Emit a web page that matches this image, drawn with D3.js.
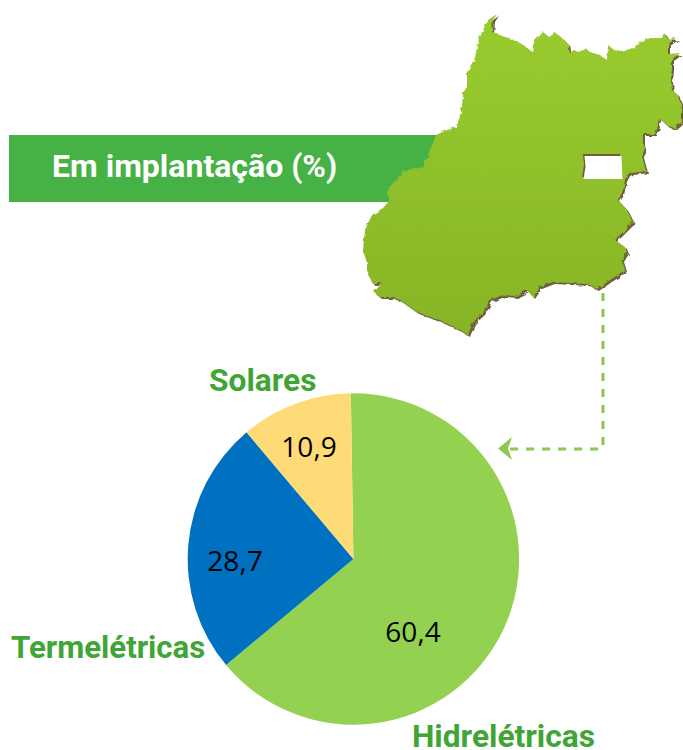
<!DOCTYPE html>
<html>
<head>
<meta charset="utf-8">
<script src="https://cdn.jsdelivr.net/npm/d3@7"></script>
<style>
    html, body { margin: 0; padding: 0; background: #fff; }
    svg { display: block; }
</style>
</head>
<body>
<svg id="chart" width="683" height="750"></svg>
<script>
let categories = ["Hidrelétricas", "Termelétricas", "Solares"]
let valueLabels = ["60,4", "28,7", "10,9"]
// slice sizes as measured from the drawn pie, the printed labels do not quite add up to the angles
let sliceShares = [64.2, 24.9, 10.9]
let sliceColors = ["#93d251", "#0070c0", "#ffdb77"]
let title = "Em implantação (%)"

let mapOutline = [[497,14],[493,20],[492,32],[505,37],[517,41],[533,52],[535,41],[543,32],[548,36],[554,32],[562,38],[568,44],[570,53],[574,50],[578,52],[586,49],[590,52],[600,55],[607,60],[608,45],[614,50],[622,52],[632,48],[642,42],[650,38],[662,38],[664,33],[668,39],[677,38],[668,44],[668,54],[680,53],[672,59],[672,68],[671,80],[672,90],[678,95],[682,105],[682,122],[675,128],[668,126],[659,118],[657,130],[655,134],[643,134],[643,143],[645,148],[642,156],[646,171],[632,173],[625,179],[625,180],[622,193],[618,200],[627,210],[633,222],[625,230],[615,240],[625,247],[627,252],[622,260],[625,270],[613,278],[597,289],[587,284],[570,283],[553,282],[540,287],[533,297],[527,290],[515,296],[503,295],[490,300],[483,313],[473,322],[468,335],[460,330],[443,322],[417,312],[400,300],[392,297],[380,297],[374,292],[382,283],[372,283],[367,270],[367,263],[363,250],[365,230],[372,215],[383,208],[390,200],[387,192],[393,183],[403,172],[423,167],[430,150],[436,135],[447,130],[457,127],[462,107],[463,93],[467,87],[467,72],[475,58],[478,42],[483,30],[488,20]]
let mapHole = [[583,154],[620,154],[621,177],[582,177],[584,165]]
let leaderDown = [[603,293],[603,446]]
let leaderLeft = [[598,449],[510,449]]

let svg = d3.select("#chart")

let defs = svg.append("defs")
let grad = defs.append("linearGradient")
    .attr("id", "mapFill")
    .attr("x1", 0).attr("y1", 0).attr("x2", 0).attr("y2", 1)
grad.append("stop").attr("offset", "0%").attr("stop-color", "#99cc2f")
grad.append("stop").attr("offset", "100%").attr("stop-color", "#87b425")

// jagged border for the map
let rough = defs.append("filter")
    .attr("id", "rough")
    .attr("x", "-5%").attr("y", "-5%").attr("width", "110%").attr("height", "110%")
rough.append("feTurbulence")
    .attr("type", "fractalNoise")
    .attr("baseFrequency", 0.18)
    .attr("numOctaves", 2)
    .attr("seed", 4)
    .attr("result", "noise")
rough.append("feDisplacementMap")
    .attr("in", "SourceGraphic")
    .attr("in2", "noise")
    .attr("scale", 4)

// title band
svg.append("rect")
    .attr("x", 9).attr("y", 135)
    .attr("width", 440).attr("height", 67)
    .attr("fill", "#46b145")
svg.append("text")
    .attr("x", 52).attr("y", 177)
    .style("font-family", "Roboto, sans-serif")
    .attr("font-size", 32)
    .attr("font-weight", 700)
    .attr("fill", "#fff")
    .text(title)

// state map
let ring = d3.line().curve(d3.curveLinearClosed)
let mapG = svg.append("g").attr("filter", "url(#rough)")
mapG.append("path")
    .attr("d", ring(mapOutline))
    .attr("transform", "translate(2,2)")
    .attr("fill", "#6e5f3e")
mapG.append("path")
    .attr("d", ring(mapOutline))
    .attr("fill", "url(#mapFill)")

// federal district cut out, kept crisp
svg.append("path")
    .attr("d", ring(mapHole))
    .attr("fill", "#6e5f3e")
svg.append("path")
    .attr("d", ring(mapHole))
    .attr("transform", "translate(1.5,2)")
    .attr("fill", "#fff")

// dashed leader
let leader = d3.line()
svg.selectAll("path.leader")
    .data([leaderDown, leaderLeft])
    .join("path")
    .attr("class", "leader")
    .attr("d", leader)
    .attr("fill", "none")
    .attr("stroke", "#8cc850")
    .attr("stroke-width", 3)
    .attr("stroke-dasharray", "8 8")
svg.append("path")
    .attr("d", "M498,448.5 L512,437 L508,448.5 L512,460 Z")
    .attr("fill", "#8cc850")

// pie
let cx = 353.4, cy = 559, radius = 165.7
let startAngle = -0.9 * Math.PI / 180
let pie = d3.pie()
    .sort(null)
    .startAngle(startAngle)
    .endAngle(startAngle + 2 * Math.PI)
let arc = d3.arc().innerRadius(0).outerRadius(radius)

svg.append("g")
    .attr("transform", `translate(${cx},${cy})`)
    .selectAll("path")
    .data(pie(sliceShares))
    .join("path")
    .attr("d", arc)
    .attr("fill", (d, i) => sliceColors[i])

// value labels are hand placed in the original, not on the slice centroid
let valuePos = [[413, 632], [235, 561], [309, 447]]
svg.selectAll("text.val")
    .data(valueLabels)
    .join("text")
    .attr("class", "val")
    .attr("x", (d, i) => valuePos[i][0])
    .attr("y", (d, i) => valuePos[i][1])
    .attr("text-anchor", "middle")
    .attr("dy", "0.36em")
    .style("font-family", "'Open Sans', sans-serif")
    .attr("font-size", 28)
    .attr("fill", "#000")
    .text(d => d)

// category labels
let categoryPos = [[412, 747], [11, 658], [209, 391]]
let categorySize = [31.7, 31.2, 31.7]
svg.selectAll("text.cat")
    .data(categories)
    .join("text")
    .attr("class", "cat")
    .attr("x", (d, i) => categoryPos[i][0])
    .attr("y", (d, i) => categoryPos[i][1])
    .style("font-family", "Roboto, sans-serif")
    .attr("font-size", (d, i) => categorySize[i])
    .attr("font-weight", 700)
    .attr("fill", "#3fa535")
    .text(d => d)
</script>
</body>
</html>
